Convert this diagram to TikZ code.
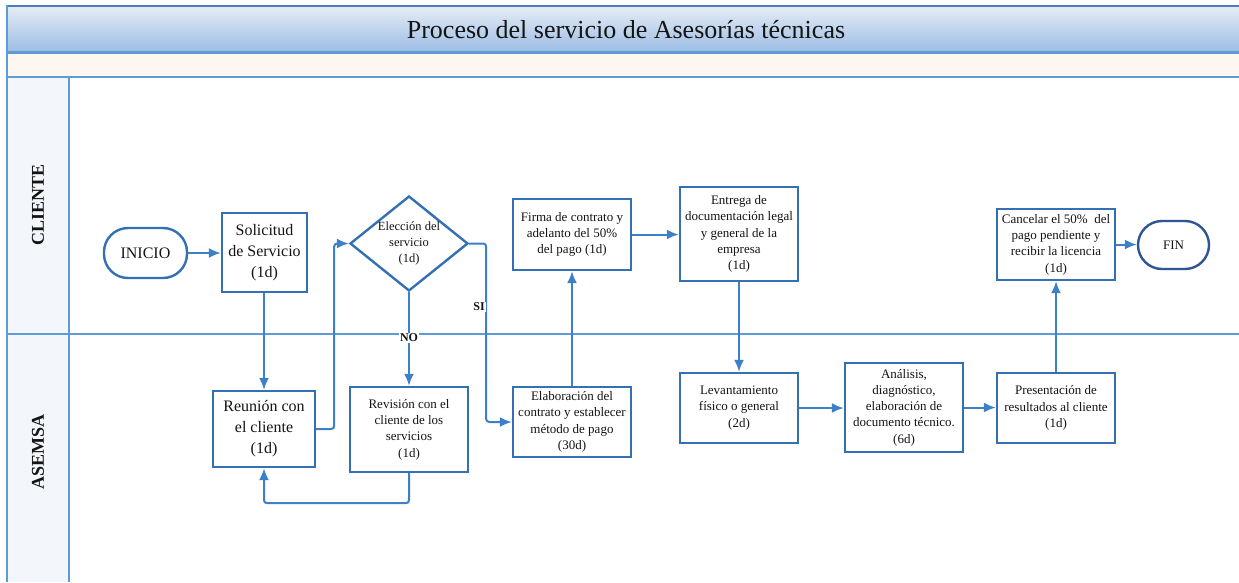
\documentclass[tikz,border=0pt]{standalone}
\usepackage{fontspec}
\setmainfont{Liberation Serif}
\usetikzlibrary{arrows.meta,shapes.geometric}
\definecolor{boxc}{RGB}{52,112,180}
\definecolor{arrc}{RGB}{61,128,200}
\definecolor{lanec}{RGB}{95,155,215}
\definecolor{hdrfill}{RGB}{243,246,251}
\definecolor{titletop}{RGB}{230,236,246}
\definecolor{titlebot}{RGB}{156,189,228}
\definecolor{titleline}{RGB}{74,126,187}
\definecolor{creamc}{RGB}{254,247,241}
\definecolor{finc}{RGB}{47,85,151}
\definecolor{txtc}{RGB}{20,20,20}
\tikzset{
  procbox/.style={draw=boxc, line width=2.4pt, fill=white, align=center, inner sep=0pt, text=txtc},
  bigtxt/.style={font=\fontsize{16}{21}\selectfont},
  smalltxt/.style={font=\fontsize{13}{16.3}\selectfont},
  startend/.style={procbox, rounded corners=24pt},
  conn/.style={draw=arrc, line width=2pt, rounded corners=3pt, -{Latex[length=12pt,width=10pt]}},
  lbl/.style={font=\bfseries\fontsize{12}{14}\selectfont, fill=white, inner sep=1pt, text=txtc},
  lanehdr/.style={rotate=90, font=\bfseries\fontsize{18}{20}\selectfont, text=txtc},
  laneline/.style={draw=lanec, line width=2.2pt}
}
\begin{document}
\begin{tikzpicture}[x=1pt,y=-1pt]
\useasboundingbox (0,0) rectangle (1239,582);
\fill[white] (0,0) rectangle (1239,582);
% title band
\shade[top color=titletop, bottom color=titlebot] (7,6) rectangle (1239,52);
\fill[creamc] (7,53) rectangle (1239,77);
\fill[hdrfill] (7,77) rectangle (69,582);
\draw[titleline, line width=2pt] (6,6) -- (1239,6);
\draw[laneline, line width=2.8pt] (6,52.5) -- (1239,52.5);
\draw[laneline] (6,77) -- (1239,77);
\draw[laneline] (7,5) -- (7,582);
\draw[laneline] (69,77) -- (69,582);
\draw[laneline] (6,334) -- (1239,334);
\node[font=\fontsize{26}{30}\selectfont, text=txtc] (title) at (626,30) {Proceso del servicio de Asesorías técnicas};
\node[lanehdr] (cli) at (38,205) {CLIENTE};
\node[lanehdr] (ase) at (38,452) {ASEMSA};
% nodes
\node[startend, bigtxt, minimum width=83pt, minimum height=50pt] (ini) at (145.5,253) {INICIO};
\node[procbox, bigtxt, minimum width=85pt, minimum height=79pt] (sol) at (264.5,252.5) {Solicitud\\de Servicio\\(1d)};
\node[draw=boxc, line width=2.4pt, fill=white, diamond, minimum width=118pt, minimum height=95pt, inner sep=0pt] (dia) at (409,243.5) {};
\node[align=center, font=\fontsize{12.5}{16}\selectfont, text=txtc] (diat) at (dia.center) {Elección del\\servicio\\(1d)};
\node[procbox, bigtxt, minimum width=102pt, minimum height=76pt] (reu) at (264,429) {Reunión con\\el cliente\\(1d)};
\node[procbox, smalltxt, minimum width=118pt, minimum height=85pt] (rev) at (409,429.5) {Revisión con el\\cliente de los\\servicios\\(1d)};
\node[procbox, smalltxt, minimum width=118pt, minimum height=70pt] (ela) at (572,422) {Elaboración del\\contrato y establecer\\método de pago\\(30d)};
\node[procbox, smalltxt, minimum width=118pt, minimum height=71pt] (fir) at (572,234.5) {Firma de contrato y\\adelanto del 50\%\\del pago (1d)};
\node[procbox, smalltxt, minimum width=118pt, minimum height=94pt] (ent) at (739,234) {Entrega de\\documentación legal\\y general de la\\empresa\\(1d)};
\node[procbox, smalltxt, minimum width=118pt, minimum height=70pt] (lev) at (739,408) {Levantamiento\\físico o general\\(2d)};
\node[procbox, smalltxt, minimum width=118pt, minimum height=89pt] (ana) at (904,407.5) {Análisis,\\diagnóstico,\\elaboración de\\documento técnico.\\(6d)};
\node[procbox, smalltxt, minimum width=118pt, minimum height=70pt] (pre) at (1056,408) {Presentación de\\resultados al cliente\\(1d)};
\node[procbox, smalltxt, minimum width=118pt, minimum height=71pt] (can) at (1056,244.5) {Cancelar el 50\%~ del\\pago pendiente y\\recibir la licencia\\(1d)};
\node[startend, smalltxt, draw=finc, minimum width=71pt, minimum height=48pt] (fin) at (1173.5,245) {FIN};
% connectors
\draw[conn] (ini.east) -- (sol.west |- ini.east);
\draw[conn] (sol.south -| reu.north) -- (reu.north);
\draw[conn] (reu.east) -- ++(18,0) |- (dia.west);
\draw[conn] (dia.south) -- (rev.north);
\draw[conn] (dia.east) -- ++(17,0) |- (ela.west);
\draw[conn] (rev.south) -- ++(0,30) -| (reu.south);
\draw[conn] (ela.north) -- (fir.south);
\draw[conn] (fir.east) -- (ent.west |- fir.east);
\draw[conn] (ent.south) -- (ent.south |- lev.north);
\draw[conn] (lev.east) -- (ana.west |- lev.east);
\draw[conn] (ana.east) -- (pre.west |- ana.east);
\draw[conn] (pre.north) -- (can.south);
\draw[conn] (can.east) -- (fin.west |- can.east);
% labels
\node[lbl] (no) at (409,338) {NO};
\node[lbl] (si) at (479,307) {SI};
\end{tikzpicture}
\end{document}
